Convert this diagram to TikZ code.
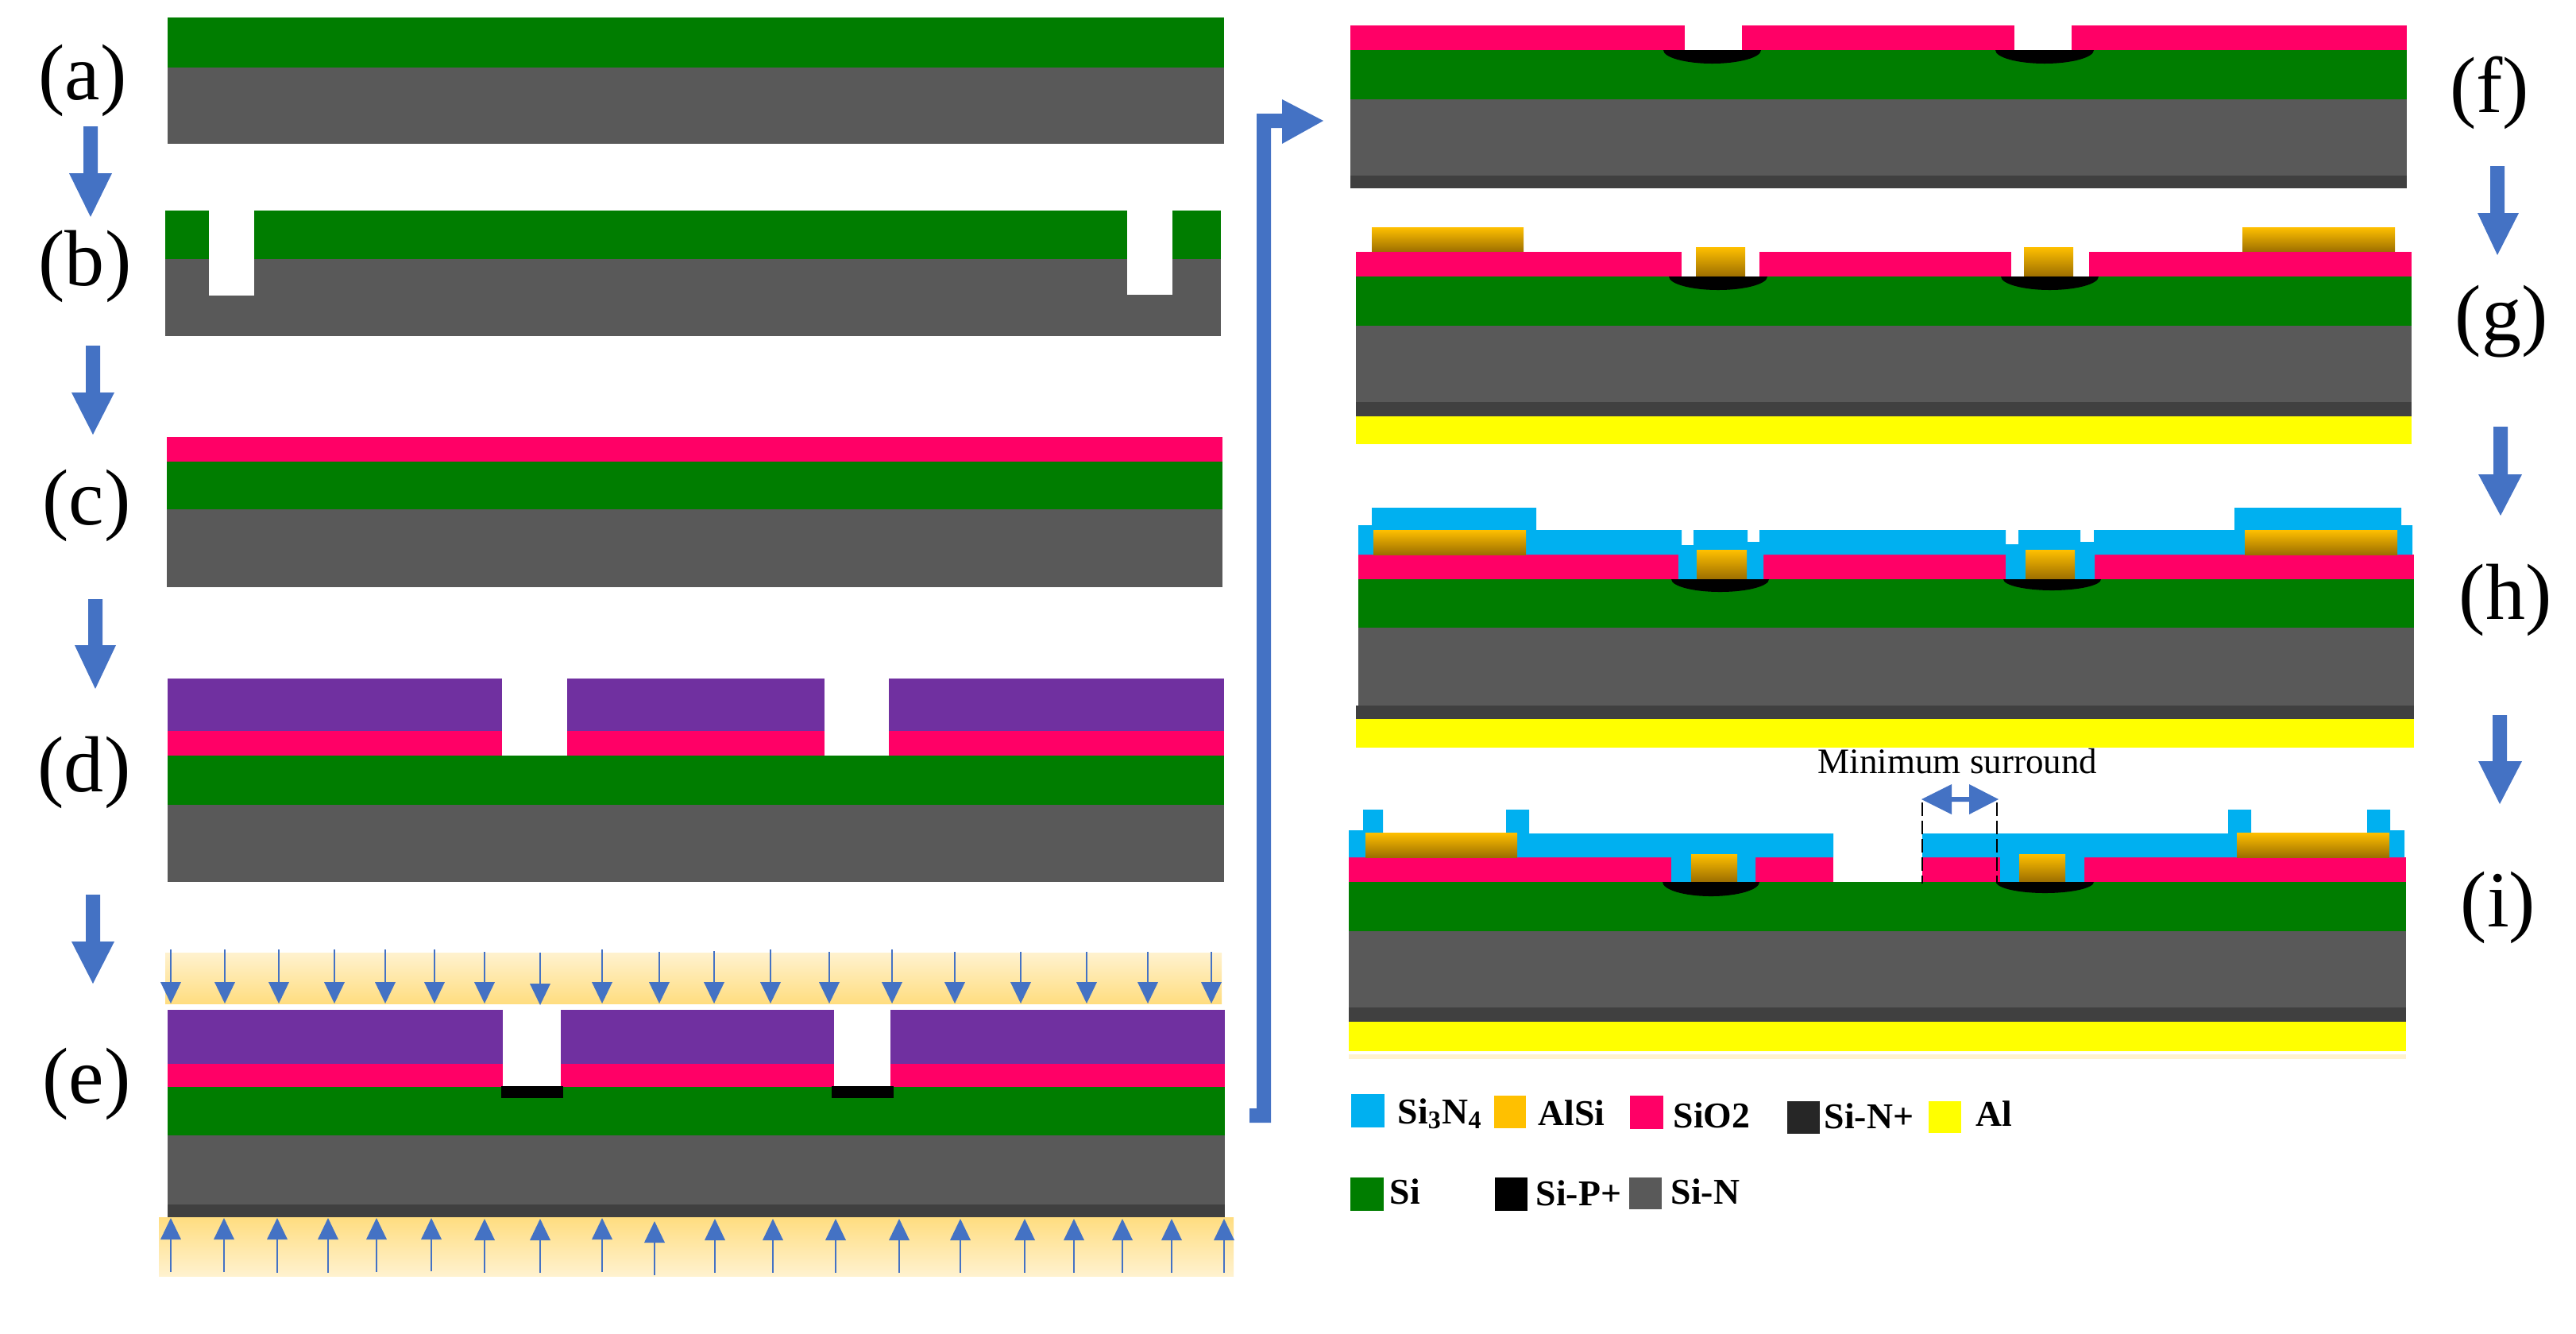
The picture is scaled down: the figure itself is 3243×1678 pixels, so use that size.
\documentclass[tikz,border=0pt]{standalone}
\usepackage{fontspec}
\setmainfont{Liberation Serif}
\definecolor{cSi}{HTML}{007D00}
\definecolor{cSiN}{HTML}{595959}
\definecolor{cSiNp}{HTML}{404040}
\definecolor{cSiO}{HTML}{FF0066}
\definecolor{cPR}{HTML}{7030A0}
\definecolor{cNit}{HTML}{00B0F0}
\definecolor{cAlSi}{HTML}{FFC000}
\definecolor{cAlSiB}{HTML}{9C6E00}
\definecolor{cAl}{HTML}{FFFF00}
\definecolor{cArrow}{HTML}{4472C4}
\definecolor{cBandL}{HTML}{FFF2CF}
\definecolor{cBandD}{HTML}{FFDD80}
\tikzset{
  si/.style={fill=cSi}, sin/.style={fill=cSiN}, sinp/.style={fill=cSiNp},
  sio/.style={fill=cSiO}, resist/.style={fill=cPR}, nit/.style={fill=cNit},
  alu/.style={fill=cAl}, sip/.style={fill=black},
  alsi/.style={top color=cAlSi,bottom color=cAlSiB},
  bandA/.style={top color=cBandL,bottom color=cBandD},
  bandB/.style={top color=cBandD,bottom color=cBandL},
  flow/.style={fill=cArrow},
  ray/.style={draw=cArrow,line width=0.025cm},
  plabel/.style={inner sep=0pt,font=\fontsize{28.45}{30}\selectfont},
  legtext/.style={inner sep=0pt,anchor=base west,font=\fontsize{13}{15}\selectfont\bfseries},
  legbox/.style={draw=none}
}
\newcommand{\lay}[5]{\path[#1] (#2,#3) rectangle (#4,#5);}
\newcommand{\stepdown}[6]{\path[flow] (#1-9,#2) -- (#1+9,#2) -- (#1+9,#3) -- (#5,#3) -- (#1,#4) -- (#6,#3) -- (#1-9,#3) -- cycle;}
\newcommand{\pcap}[4]{%
  \pgfmathsetmacro{\cm}{(#1+#2)/2}\pgfmathsetmacro{\cw}{(#2-#1)*0.275}\pgfmathsetmacro{\cd}{(#4-#3)*0.55}%
  \path[sip] (#1,#3) .. controls (#1,#3+\cd) and (\cm-\cw,#4) .. (\cm,#4) .. controls (\cm+\cw,#4) and (#2,#3+\cd) .. (#2,#3) -- cycle;}
\begin{document}
\begin{tikzpicture}[x=0.01cm,y=-0.01cm]
\useasboundingbox (0,0) rectangle (3243,1678);
% (a)
\lay{si}{211}{22}{1541}{85}
\lay{sin}{211}{85}{1541}{181}
% (b)
\lay{si}{208}{265}{1537}{326}
\lay{sin}{208}{326}{1537}{423}
\lay{fill=white}{263}{260}{320}{372}
\lay{fill=white}{1419}{260}{1476}{371}
% (c)
\lay{sio}{210}{550}{1539}{581}
\lay{si}{210}{581}{1539}{641}
\lay{sin}{210}{641}{1539}{739}
% (d)
\lay{resist}{211}{854}{632}{920}
\lay{resist}{714}{854}{1038}{920}
\lay{resist}{1119}{854}{1541}{920}
\lay{sio}{211}{920}{632}{951}
\lay{sio}{714}{920}{1038}{951}
\lay{sio}{1119}{920}{1541}{951}
\lay{si}{211}{951}{1541}{1013}
\lay{sin}{211}{1013}{1541}{1110}
% (e)
\lay{bandA}{208}{1199}{1538}{1263}
\lay{resist}{211}{1271}{633}{1339}
\lay{resist}{706}{1271}{1050}{1339}
\lay{resist}{1121}{1271}{1542}{1339}
\lay{sio}{211}{1339}{633}{1368}
\lay{sio}{706}{1339}{1050}{1368}
\lay{sio}{1121}{1339}{1542}{1368}
\lay{si}{211}{1368}{1542}{1429}
\lay{sin}{211}{1429}{1542}{1516}
\lay{sinp}{211}{1516}{1542}{1532}
\lay{sip}{631}{1367}{709}{1382}
\lay{sip}{1047}{1367}{1125}{1382}
\lay{bandB}{200}{1532}{1553}{1606}
\foreach \x/\t/\b in {215/1195/1263,283/1195/1263,351/1195/1263,421/1195/1263,485/1195/1263,547/1195/1263,610/1198/1263,680/1199/1265,758/1195/1263,830/1198/1263,899/1197/1263,970/1195/1263,1044/1198/1263,1123/1195/1263,1202/1198/1263,1285/1198/1263,1368/1198/1263,1445/1198/1263,1525/1198/1263}{
  \draw[ray] (\x,\t) -- (\x,\b-25);
  \path[flow] (\x-13,\b-27) -- (\x+13,\b-27) -- (\x,\b) -- cycle;
}
\foreach \x/\t/\b in {215/1533/1601,282/1533/1601,349/1533/1602,413/1533/1602,474/1533/1601,543/1533/1600,610/1534/1602,680/1534/1602,758/1533/1601,824/1537/1605,900/1534/1602,973/1534/1602,1052/1534/1602,1132/1534/1602,1209/1534/1602,1290/1534/1602,1352/1534/1602,1413/1534/1602,1475/1534/1602,1541/1534/1602}{
  \draw[ray] (\x,\b) -- (\x,\t+25);
  \path[flow] (\x-13,\t+27) -- (\x+13,\t+27) -- (\x,\t) -- cycle;
}
% step arrows, left column
\stepdown{114}{159}{218}{273}{87}{141}
\stepdown{117}{435}{494}{547}{90}{144}
\stepdown{120}{754}{812}{867}{94}{146}
\stepdown{117}{1126}{1185}{1238}{90}{144}
% long bracket arrow
\path[flow] (1573,1395) -- (1582,1395) -- (1582,143) -- (1614,143) -- (1614,125) -- (1666,152) -- (1614,181) -- (1614,161) -- (1600,161) -- (1600,1413) -- (1573,1413) -- cycle;
% (f)
\lay{sio}{1700}{32}{2121}{63}
\lay{sio}{2193}{32}{2536}{63}
\lay{sio}{2608}{32}{3030}{63}
\lay{si}{1700}{63}{3030}{125}
\lay{sin}{1700}{125}{3030}{221}
\lay{sinp}{1700}{221}{3030}{237}
\pcap{2094}{2217}{63}{80}
\pcap{2512}{2636}{63}{80}
% (g)
\lay{alsi}{1727}{286}{1918}{317}
\lay{alsi}{2823}{286}{3015}{317}
\lay{sio}{1707}{317}{2117}{348}
\lay{sio}{2215}{317}{2532}{348}
\lay{sio}{2630}{317}{3036}{348}
\lay{alsi}{2135}{311}{2197}{348}
\lay{alsi}{2548}{311}{2610}{348}
\lay{si}{1707}{348}{3036}{410}
\lay{sin}{1707}{410}{3036}{506}
\lay{sinp}{1707}{506}{3036}{524}
\lay{alu}{1707}{524}{3036}{559}
\pcap{2101}{2225}{348}{365}
\pcap{2519}{2642}{348}{365}
% step arrows, right column
\stepdown{3144}{209}{268}{321}{3119}{3171}
\stepdown{3148}{537}{597}{649}{3120}{3175}
\stepdown{3147}{900}{958}{1012}{3120}{3175}
% (h)
\lay{sio}{1710}{698}{2113}{729}
\lay{sio}{2220}{698}{2525}{729}
\lay{sio}{2637}{698}{3039}{729}
\path[nit] (1710,661) -- (1727,661) -- (1727,639) -- (1934,639) -- (1934,667) -- (2117,667) -- (2117,686) -- (2132,686) -- (2132,667) -- (2200,667) -- (2200,682) -- (2215,682) -- (2215,667) -- (2525,667) -- (2525,685) -- (2541,685) -- (2541,667) -- (2619,667) -- (2619,682) -- (2636,682) -- (2636,667) -- (2813,667) -- (2813,639) -- (3023,639) -- (3023,661) -- (3037,661) -- (3037,698) -- (2637,698) -- (2637,729) -- (2525,729) -- (2525,698) -- (2220,698) -- (2220,729) -- (2113,729) -- (2113,698) -- (1710,698) -- cycle;
\lay{alsi}{1729}{667}{1921}{698}
\lay{alsi}{2826}{667}{3018}{698}
\lay{alsi}{2136}{692}{2199}{729}
\lay{alsi}{2550}{692}{2612}{729}
\lay{si}{1710}{729}{3039}{790}
\lay{sin}{1710}{790}{3039}{888}
\lay{sinp}{1707}{888}{3039}{905}
\lay{alu}{1707}{905}{3039}{941}
\pcap{2104}{2227}{729}{745}
\pcap{2522}{2645}{729}{743}
% (i)
\lay{sio}{1698}{1079}{2104}{1110}
\lay{sio}{2210}{1079}{2308}{1110}
\lay{sio}{2420}{1079}{2518}{1110}
\lay{sio}{2624}{1079}{3029}{1110}
\path[nit] (1698,1045) -- (1716,1045) -- (1716,1019) -- (1741,1019) -- (1741,1048) -- (1896,1048) -- (1896,1019) -- (1925,1019) -- (1925,1049) -- (2308,1049) -- (2308,1079) -- (2210,1079) -- (2210,1110) -- (2104,1110) -- (2104,1079) -- (1698,1079) -- cycle;
\path[nit] (2420,1049) -- (2805,1049) -- (2805,1019) -- (2834,1019) -- (2834,1048) -- (2980,1048) -- (2980,1019) -- (3009,1019) -- (3009,1045) -- (3027,1045) -- (3027,1079) -- (2624,1079) -- (2624,1110) -- (2518,1110) -- (2518,1079) -- (2420,1079) -- cycle;
\lay{alsi}{1719}{1048}{1910}{1079}
\lay{alsi}{2816}{1048}{3008}{1079}
\lay{alsi}{2129}{1075}{2187}{1110}
\lay{alsi}{2542}{1075}{2600}{1110}
\lay{si}{1698}{1110}{3029}{1172}
\lay{sin}{1698}{1172}{3029}{1268}
\lay{sinp}{1698}{1268}{3029}{1286}
\lay{alu}{1698}{1286}{3029}{1323}
\lay{fill=cBandL}{1698}{1327}{3029}{1333}
\pcap{2093}{2215}{1110}{1128}
\pcap{2513}{2636}{1110}{1124}
\draw[black,line width=0.02cm,dash pattern=on 0.17cm off 0.06cm] (2420,1010) -- (2420,1112);
\draw[black,line width=0.02cm,dash pattern=on 0.17cm off 0.06cm] (2514,1010) -- (2514,1112);
\path[flow] (2419,1006) -- (2457,987) -- (2457,1003) -- (2479,1003) -- (2479,987) -- (2516,1006) -- (2479,1025) -- (2479,1009) -- (2457,1009) -- (2457,1025) -- cycle;
\node[inner sep=0pt,anchor=base west,font=\fontsize{12.8}{14}\selectfont] (minsur) at (2288,973) {Minimum surround};
% step labels
\node[plabel] (la) at (104,101) {(a)};
\node[plabel] (lb) at (107,335) {(b)};
\node[plabel] (lc) at (109,636) {(c)};
\node[plabel] (ld) at (106,972) {(d)};
\node[plabel] (le) at (109,1364) {(e)};
\node[plabel] (lf) at (3134,117) {(f)};
\node[plabel] (lg) at (3149,405) {(g)};
\node[plabel] (lh) at (3154,755) {(h)};
\node[plabel] (li) at (3145,1142) {(i)};
% legend
\lay{nit}{1701}{1377}{1743}{1419}
\node[legtext] (t1) at (1759,1414) {Si\textsubscript{3}N\textsubscript{4}};
\lay{fill=cAlSi}{1881}{1379}{1921}{1420}
\node[legtext] (t2) at (1936,1416) {AlSi};
\lay{sio}{2052}{1379}{2094}{1421}
\node[legtext] (t3) at (2106,1419) {SiO2};
\lay{fill=black!85}{2250}{1386}{2291}{1427}
\node[legtext] (t4) at (2296,1420) {Si-N+};
\lay{alu}{2428}{1386}{2469}{1426}
\node[legtext] (t5) at (2487,1417) {Al};
\lay{si}{1700}{1482}{1742}{1524}
\node[legtext] (t6) at (1749,1515) {Si};
\lay{sip}{1882}{1482}{1923}{1524}
\node[legtext] (t7) at (1933,1517) {Si-P+};
\lay{sin}{2051}{1482}{2092}{1522}
\node[legtext] (t8) at (2103,1515) {Si-N};
\end{tikzpicture}
\end{document}
